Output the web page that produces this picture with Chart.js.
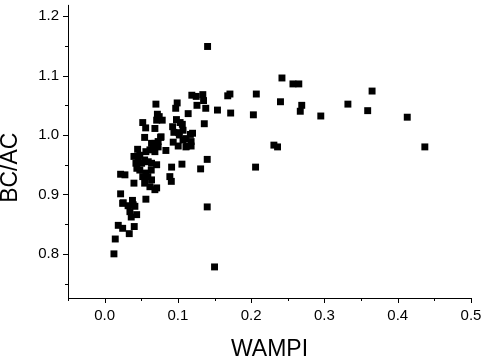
<!DOCTYPE html>
<html>
<head>
<meta charset="utf-8">
<script src="https://cdn.jsdelivr.net/npm/chart.js@4/dist/chart.umd.min.js"></script>
<style>
  html, body { margin: 0; padding: 0; background: #fff; }
  #wrap { width: 484px; height: 359px; }
</style>
</head>
<body>
<div id="wrap"><canvas id="c" width="484" height="359"></canvas></div>
<script>
// WAMPI (x) and BC/AC (y)
const wampi = [
    0.1405, 0.242, 0.257, 0.265, 0.365, 0.119, 0.125, 0.134, 0.135, 0.126,
    0.138, 0.114, 0.154, 0.168, 0.171, 0.172, 0.207, 0.203, 0.240, 0.269,
    0.267, 0.295, 0.332, 0.359, 0.413, 0.437, 0.231, 0.236, 0.136, 0.140,
    0.131, 0.206, 0.140, 0.150, 0.1055,
    0.070, 0.099, 0.097, 0.072, 0.0745, 0.071, 0.0786, 0.098, 0.103, 0.052,
    0.056, 0.0686, 0.0928, 0.0945, 0.101, 0.107, 0.106, 0.120, 0.0546, 0.0764,
    0.073, 0.0686, 0.064, 0.0936, 0.1004, 0.107, 0.112, 0.118, 0.0618, 0.0686,
    0.0836, 0.045, 0.0563, 0.040, 0.0458, 0.0427, 0.0505, 0.0595, 0.064, 0.071,
    0.0914, 0.048, 0.052, 0.0563, 0.064, 0.071, 0.0618, 0.0686, 0.089, 0.091,
    0.0218, 0.0277, 0.040, 0.0218, 0.0246, 0.032, 0.0345, 0.0413, 0.0437, 0.0363,
    0.0563, 0.0186, 0.0246, 0.0404, 0.0336, 0.0145, 0.0127,
    0.102, 0.111, 0.117, 0.118, 0.111, 0.077, 0.066, 0.073, 0.048, 0.0546,
    0.0636, 0.044, 0.059, 0.0546, 0.039, 0.038, 0.0254
];
const bcac = [
    1.149, 1.096, 1.086, 1.086, 1.074, 1.067, 1.065, 1.068, 1.058, 1.050,
    1.045, 1.036, 1.042, 1.066, 1.069, 1.037, 1.069, 1.034, 1.056, 1.050,
    1.040, 1.032, 1.052, 1.041, 1.030, 0.980, 0.983, 0.980, 1.019, 0.959,
    0.943, 0.946, 0.879, 0.778, 0.951,
    1.052, 1.054, 1.045, 1.035, 1.031, 1.025, 1.025, 1.026, 1.021, 1.021,
    1.012, 1.011, 1.014, 1.0045, 1.004, 1.008, 1.018, 1.003, 0.996, 0.996,
    0.989, 0.986, 0.986, 0.988, 0.9815, 0.9916, 0.9815, 0.9815, 0.975, 0.972,
    0.974, 0.976, 0.972, 0.964, 0.959, 0.9525, 0.9525, 0.955, 0.9525, 0.950,
    0.946, 0.941, 0.930, 0.936, 0.9245, 0.911, 0.913, 0.908, 0.930, 0.922,
    0.934, 0.933, 0.919, 0.901, 0.885, 0.881, 0.871, 0.880, 0.866, 0.862,
    0.892, 0.848, 0.843, 0.846, 0.834, 0.825, 0.800,
    1.000, 0.994, 1.001, 0.989, 0.980, 0.997, 0.978, 0.980, 0.966, 0.958,
    0.941, 0.944, 0.930, 0.919, 0.8826, 0.890, 0.886
];

// axis ticks (every 0.05 gets a mark, every 0.1 a label)
const xTicks = [-0.05, 0, 0.05, 0.1, 0.15, 0.2, 0.25, 0.3, 0.35, 0.4, 0.45, 0.5];
const yTicks = [0.75, 0.8, 0.85, 0.9, 0.95, 1.0, 1.05, 1.1, 1.15, 1.2];
const yTitle = 'BC/AC';

const isMajor = v => Math.abs(Math.round(v * 100) % 10) === 0;
const font = 'Liberation Sans, Arial, sans-serif';

// axis lines + tick marks (long on labelled values, short in between),
// and the y title, which sits a bit below the middle of the axis like the original
const axisDeco = {
    id: 'axisDeco',
    afterDraw(chart) {
        const ctx = chart.ctx;
        const xs = chart.scales.x, ys = chart.scales.y;
        ctx.save();
        ctx.strokeStyle = '#000';
        ctx.lineWidth = 1;
        ctx.beginPath();
        ctx.moveTo(xs.left + 0.5, ys.top);
        ctx.lineTo(xs.left + 0.5, ys.bottom + 0.5);
        ctx.lineTo(xs.right, ys.bottom + 0.5);
        xTicks.forEach(v => {
            const px = Math.round(xs.getPixelForValue(v)) + 0.5;
            const len = isMajor(v) ? 5 : 3;
            ctx.moveTo(px, ys.bottom);
            ctx.lineTo(px, ys.bottom + len);
        });
        yTicks.forEach(v => {
            const py = Math.round(ys.getPixelForValue(v)) + 0.5;
            const len = isMajor(v) ? 5 : 3;
            ctx.moveTo(xs.left, py);
            ctx.lineTo(xs.left - len, py);
        });
        ctx.stroke();

        ctx.translate(11, ys.getPixelForValue(0.945));
        ctx.rotate(-Math.PI / 2);
        ctx.fillStyle = '#000';
        ctx.font = '23px ' + font;
        ctx.textAlign = 'center';
        ctx.textBaseline = 'middle';
        ctx.fillText(yTitle, 0, 0);
        ctx.restore();
    }
};

// drop the automatic label overhang padding, layout.padding sets the margins
const noPad = s => { s.paddingTop = 0; s.paddingBottom = 0; s.paddingLeft = 0; s.paddingRight = 0; };

new Chart(document.getElementById('c'), {
    type: 'scatter',
    data: {
        datasets: [{
            data: wampi.map((x, i) => ({ x: x, y: bcac[i] })),
            pointStyle: 'rect',
            pointRadius: 4.9,
            pointHoverRadius: 4.9,
            backgroundColor: '#000',
            borderWidth: 0
        }]
    },
    options: {
        responsive: false,
        animation: false,
        layout: { padding: { top: 1, right: 13, left: 0, bottom: 0 } },
        plugins: {
            legend: { display: false },
            tooltip: { enabled: false }
        },
        scales: {
            x: {
                type: 'linear',
                min: -0.05,
                max: 0.5,
                border: { display: false },
                grid: { display: false, drawTicks: false },
                afterBuildTicks: s => { s.ticks = xTicks.map(v => ({ value: v })); },
                afterFit: s => { s.height = 61; noPad(s); },
                ticks: {
                    autoSkip: false,
                    maxRotation: 0,
                    padding: 9,
                    color: '#000',
                    font: { family: font, size: 15 },
                    callback: v => isMajor(v) ? v.toFixed(1) : ''
                },
                title: {
                    display: true,
                    text: 'WAMPI',
                    color: '#000',
                    font: { family: font, size: 23 },
                    padding: { top: 4, bottom: -4 }
                }
            },
            y: {
                type: 'linear',
                min: 0.7257,
                max: 1.219,
                border: { display: false },
                grid: { display: false, drawTicks: false },
                afterBuildTicks: s => { s.ticks = yTicks.map(v => ({ value: v })); },
                afterFit: s => { s.width = 68; noPad(s); },
                ticks: {
                    autoSkip: false,
                    padding: 9,
                    color: '#000',
                    font: { family: font, size: 15 },
                    callback: v => isMajor(v) ? v.toFixed(1) : ''
                },
                title: { display: false }
            }
        }
    },
    plugins: [axisDeco]
});
</script>
</body>
</html>
